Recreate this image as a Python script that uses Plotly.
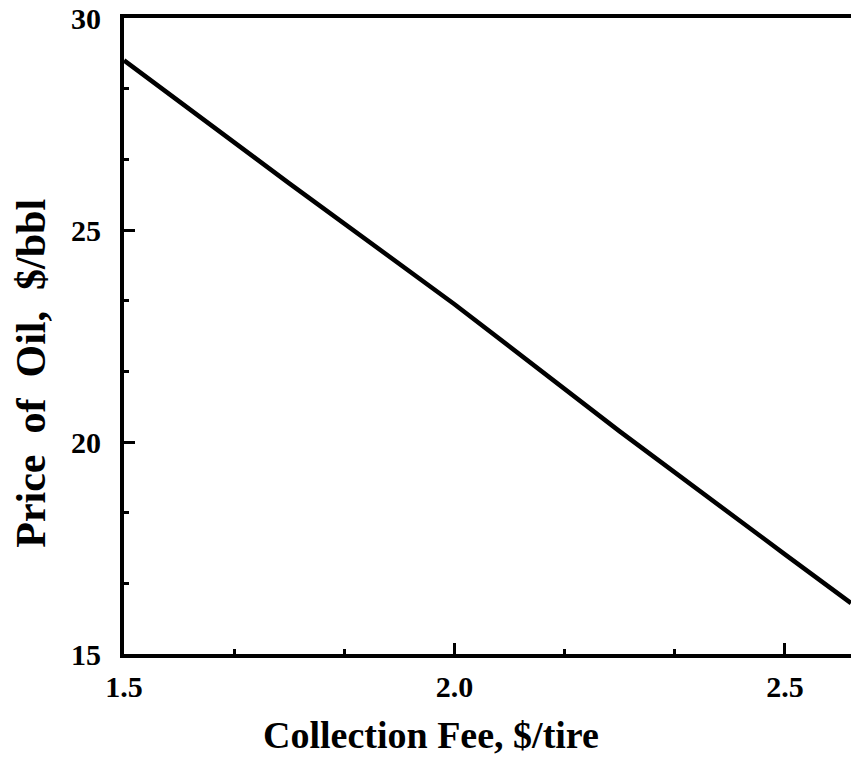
import plotly.graph_objects as go

# Oil price required versus tire collection fee
collection_fee = [1.5, 1.75, 2.0, 2.25, 2.5, 2.6]
oil_price = [29.0, 26.1, 23.25, 20.25, 17.35, 16.2]

x_ticks = [1.5, 2.0, 2.5]
x_tick_labels = ["1.5", "2.0", "2.5"]
y_ticks = [15, 20, 25, 30]
y_tick_labels = ["15", "20", "25", "30"]

FONT = "Liberation Serif"
TICK_FONT = dict(family=FONT, size=30, color="black", weight="bold")

fig = go.Figure()
fig.add_trace(go.Scatter(
    x=collection_fee, y=oil_price, mode="lines",
    line=dict(color="black", width=4.5),
    showlegend=False, hoverinfo="skip",
))

fig.update_xaxes(
    range=[1.5, 2.6], showgrid=False, zeroline=False,
    showline=True, linecolor="black", linewidth=4, mirror=True,
    tickmode="array", tickvals=x_ticks, ticktext=x_tick_labels,
    ticks="inside", ticklen=11, tickwidth=3, tickcolor="black",
    ticklabelstandoff=3, tickfont=TICK_FONT,
    minor=dict(dtick=0.5 / 3, tick0=1.5, ticks="inside", ticklen=5,
               tickwidth=3, tickcolor="black", showgrid=False),
)
fig.update_yaxes(
    range=[15, 30], showgrid=False, zeroline=False,
    showline=True, linecolor="black", linewidth=4, mirror=False,
    tickmode="array", tickvals=y_ticks, ticktext=y_tick_labels,
    ticks="inside", ticklen=11, tickwidth=3, tickcolor="black",
    ticklabelstandoff=13, tickfont=TICK_FONT,
    minor=dict(dtick=5 / 3, tick0=15, ticks="inside", ticklen=5,
               tickwidth=3, tickcolor="black", showgrid=False),
)

fig.add_annotation(
    text="Collection Fee, $/tire", xref="paper", yref="paper",
    x=0.422, y=-0.127, xanchor="center", yanchor="middle", showarrow=False,
    font=dict(family=FONT, size=38, color="black", weight="bold"),
)
fig.add_annotation(
    text="Price&nbsp; of&nbsp; Oil,&nbsp; $/bbl", xref="paper", yref="paper",
    x=-0.129, y=0.441, xanchor="center", yanchor="middle", showarrow=False,
    textangle=-90,
    font=dict(family=FONT, size=42, color="black", weight="bold"),
)

fig.update_layout(
    width=851, height=760,
    margin=dict(l=124, r=0, t=18, b=106),
    plot_bgcolor="white", paper_bgcolor="white",
)

fig.write_html("out.html")
